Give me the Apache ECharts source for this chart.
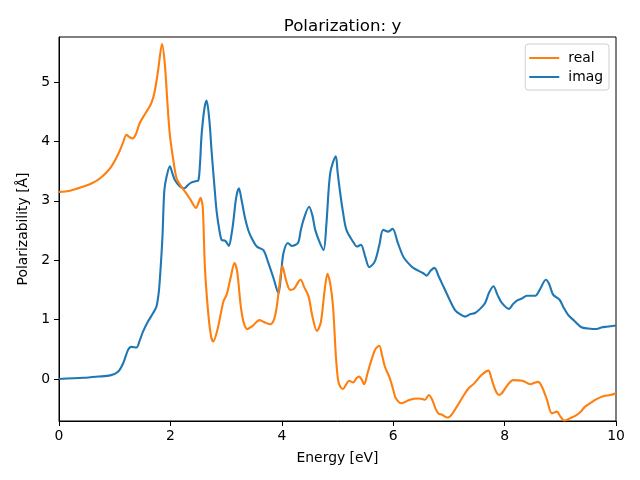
<!DOCTYPE html>
<html>
<head>
<meta charset="utf-8">
<script src="https://cdn.jsdelivr.net/npm/echarts@6/dist/echarts.min.js"></script>
<style>html,body{margin:0;padding:0;background:#fff}#c{width:640px;height:480px}</style>
</head>
<body>
<div id="c"></div>
<script>
const energyReal = [0,0.2,0.44,0.6,0.74,0.92,1.06,1.15,1.21,1.27,1.32,1.38,1.45,1.55,1.66,1.72,1.78,1.85,1.9,1.95,1.99,2.05,2.11,2.18,2.26,2.36,2.46,2.51,2.54,2.58,2.62,2.68,2.73,2.77,2.85,2.95,3.01,3.08,3.15,3.2,3.26,3.31,3.38,3.47,3.6,3.7,3.79,3.86,3.91,3.96,4.01,4.08,4.15,4.22,4.3,4.34,4.4,4.48,4.55,4.63,4.7,4.77,4.82,4.87,4.92,4.97,5.01,5.05,5.1,5.15,5.21,5.28,5.34,5.39,5.44,5.48,5.54,5.61,5.68,5.75,5.8,5.85,5.94,6.0,6.05,6.15,6.3,6.45,6.53,6.57,6.64,6.7,6.76,6.81,6.87,6.98,7.05,7.14,7.25,7.35,7.46,7.59,7.71,7.76,7.8,7.85,7.9,7.95,8.01,8.08,8.15,8.32,8.46,8.55,8.6,8.67,8.76,8.85,8.94,9.0,9.07,9.18,9.29,9.37,9.44,9.55,9.65,9.77,9.9,10];
const realValues = [3.15,3.17,3.24,3.30,3.38,3.55,3.78,3.98,4.11,4.07,4.05,4.12,4.31,4.47,4.65,4.85,5.2,5.64,5.3,4.6,4.11,3.7,3.38,3.26,3.16,3.02,2.88,2.98,3.05,2.9,1.87,1.1,0.72,0.63,0.85,1.30,1.42,1.7,1.95,1.8,1.25,0.97,0.84,0.89,0.99,0.95,0.92,1.0,1.22,1.6,1.90,1.65,1.50,1.52,1.64,1.67,1.55,1.39,1.05,0.81,0.95,1.5,1.77,1.6,1.22,0.4,-0.02,-0.13,-0.17,-0.10,-0.03,-0.06,0.01,0.04,-0.02,-0.09,0.1,0.32,0.5,0.56,0.4,0.21,0.01,-0.18,-0.33,-0.41,-0.35,-0.33,-0.34,-0.35,-0.27,-0.35,-0.5,-0.58,-0.60,-0.65,-0.6,-0.47,-0.3,-0.16,-0.07,0.07,0.14,0.02,-0.10,-0.22,-0.27,-0.24,-0.16,-0.07,-0.02,-0.03,-0.09,-0.06,-0.05,-0.13,-0.35,-0.58,-0.55,-0.63,-0.70,-0.66,-0.61,-0.55,-0.47,-0.40,-0.34,-0.29,-0.27,-0.24];
const energyImag = [0,0.44,0.7,0.92,1.06,1.15,1.24,1.3,1.39,1.45,1.51,1.6,1.69,1.75,1.79,1.81,1.84,1.86,1.89,1.93,1.99,2.04,2.08,2.17,2.25,2.32,2.38,2.45,2.5,2.53,2.56,2.61,2.65,2.7,2.74,2.79,2.83,2.88,2.92,2.97,3.0,3.05,3.1,3.13,3.18,3.23,3.28,3.34,3.4,3.46,3.55,3.67,3.76,3.85,3.94,3.99,4.03,4.11,4.18,4.29,4.34,4.39,4.49,4.55,4.6,4.68,4.75,4.8,4.87,4.97,5.0,5.04,5.1,5.16,5.28,5.35,5.42,5.5,5.57,5.67,5.75,5.82,5.91,5.99,6.08,6.18,6.27,6.36,6.54,6.6,6.67,6.74,6.82,6.9,7.0,7.11,7.2,7.29,7.38,7.47,7.56,7.65,7.72,7.8,7.87,7.95,8.08,8.15,8.22,8.3,8.4,8.55,8.63,8.74,8.8,8.87,8.99,9.06,9.14,9.25,9.38,9.5,9.65,9.75,9.83,10];
const imagValues = [0,0.02,0.04,0.06,0.12,0.26,0.49,0.54,0.53,0.65,0.80,0.97,1.11,1.22,1.45,1.67,2.1,2.45,3.16,3.4,3.58,3.45,3.35,3.24,3.21,3.27,3.31,3.33,3.34,3.6,4.11,4.55,4.69,4.35,3.83,3.25,2.82,2.5,2.34,2.33,2.31,2.24,2.45,2.65,3.05,3.21,3.0,2.71,2.5,2.37,2.23,2.17,1.95,1.7,1.44,1.8,2.12,2.29,2.24,2.29,2.5,2.68,2.90,2.75,2.51,2.3,2.17,2.6,3.47,3.75,3.5,3.19,2.8,2.51,2.31,2.23,2.26,2.05,1.88,1.98,2.25,2.51,2.48,2.53,2.3,2.06,1.95,1.87,1.78,1.74,1.82,1.87,1.72,1.56,1.36,1.16,1.09,1.05,1.09,1.11,1.18,1.28,1.45,1.56,1.42,1.28,1.18,1.26,1.32,1.35,1.40,1.40,1.50,1.67,1.6,1.42,1.33,1.2,1.08,0.98,0.87,0.85,0.84,0.87,0.88,0.90];
const xTicks = [0,2,4,6,8,10];
const yTicks = [0,1,2,3,4,5];
const seriesNames = ['real','imag'];

const FONT = 'DejaVu Sans';
const zip = (xs, ys) => xs.map((x, i) => [x, ys[i]]);
const chart = echarts.init(document.getElementById('c'), null, {renderer: 'canvas'});
chart.setOption({
  animation: false,
  backgroundColor: '#fff',
  title: {
    text: 'Polarization: y', left: 337.5, top: 13, textAlign: 'center',
    textStyle: {fontFamily: FONT, fontSize: 16.67, fontWeight: 'normal', color: '#000'}
  },
  legend: {
    data: [{name: seriesNames[0], icon: 'rect'}, {name: seriesNames[1], icon: 'rect'}],
    orient: 'vertical', right: 31, top: 44,
    itemWidth: 30, itemHeight: 2, itemGap: 5,
    padding: [7, 6, 6, 4],
    borderColor: '#d0d0d0', borderWidth: 1, borderRadius: 3,
    textStyle: {fontFamily: FONT, fontSize: 13.9, color: '#000', padding: [0, 0, 0, 4]}
  },
  grid: {left: 59, right: 24, top: 37, bottom: 59, show: true, borderColor: '#000', borderWidth: 1, backgroundColor: 'transparent'},
  xAxis: {
    type: 'value', min: 0, max: 10, interval: 2,
    name: 'Energy [eV]', nameLocation: 'middle', nameGap: 30,
    nameTextStyle: {fontFamily: FONT, fontSize: 13.9, color: '#000'},
    axisLine: {show: true, onZero: false, lineStyle: {color: '#000', width: 1}},
    axisTick: {show: true, length: 5, lineStyle: {color: '#000'}, customValues: xTicks},
    axisLabel: {fontFamily: FONT, fontSize: 13.9, color: '#000', margin: 8, customValues: xTicks},
    splitLine: {show: false}
  },
  yAxis: {
    type: 'value', min: -0.708, max: 5.758,
    name: 'Polarizability [Å]', nameLocation: 'middle', nameGap: 27,
    nameTextStyle: {fontFamily: FONT, fontSize: 13.9, color: '#000'},
    axisLine: {show: true, onZero: false, lineStyle: {color: '#000', width: 1}},
    axisTick: {show: true, length: 5, lineStyle: {color: '#000'}, customValues: yTicks},
    axisLabel: {fontFamily: FONT, fontSize: 13.9, color: '#000', margin: 9, customValues: yTicks},
    splitLine: {show: false}
  },
  series: [
    {name: seriesNames[1], type: 'line', data: zip(energyImag, imagValues), smooth: 0.3, showSymbol: false,
     color: '#1f77b4', lineStyle: {color: '#1f77b4', width: 2.1}},
    {name: seriesNames[0], type: 'line', data: zip(energyReal, realValues), smooth: 0.3, showSymbol: false,
     color: '#ff7f0e', lineStyle: {color: '#ff7f0e', width: 2.1}}
  ]
});
</script>
</body>
</html>
